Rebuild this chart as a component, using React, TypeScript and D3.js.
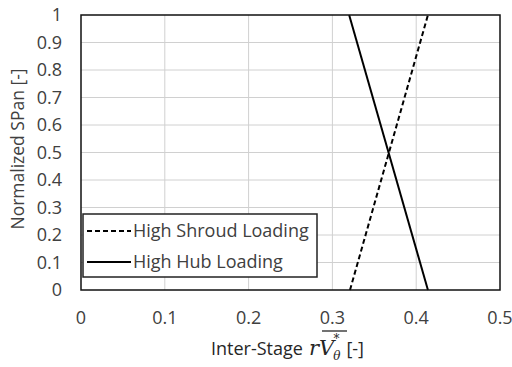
import React from "react";
import * as d3 from "d3";

const xTicks = [0, 0.1, 0.2, 0.3, 0.4, 0.5];
const yTicks = [0, 0.1, 0.2, 0.3, 0.4, 0.5, 0.6, 0.7, 0.8, 0.9, 1];
const shroudX = [0.321, 0.414];
const shroudY = [0, 1];
const hubX = [0.414, 0.32];
const hubY = [0, 1];
const seriesNames = ["High Shroud Loading", "High Hub Loading"];

export default function App() {
  const W = 512, H = 367;
  const left = 81, right = 500, top = 15, bottom = 290;
  const x = d3.scaleLinear().domain([0, 0.5]).range([left, right]);
  const y = d3.scaleLinear().domain([0, 1]).range([bottom, top]);
  const line = d3.line<[number, number]>().x(d => x(d[0])).y(d => y(d[1]));
  const shroud: [number, number][] = shroudX.map((v, i) => [v, shroudY[i]]);
  const hub: [number, number][] = hubX.map((v, i) => [v, hubY[i]]);
  const font = "'Open Sans', sans-serif";
  const txt = "#404040";
  const fs = 18;
  const serif = "'DejaVu Serif', 'Liberation Serif', serif";
  return (
    <svg width={W} height={H} style={{ position: "absolute", left: 0, top: 0, background: "#fff" }} fontFamily={font}>
      <rect x={0} y={0} width={W} height={H} fill="#fff" />
      {xTicks.slice(1, -1).map(t => (
        <line key={"gx" + t} x1={x(t)} x2={x(t)} y1={top} y2={bottom} stroke="#d0d0d0" strokeWidth={1} />
      ))}
      {yTicks.slice(1, -1).map(t => (
        <line key={"gy" + t} x1={left} x2={right} y1={y(t)} y2={y(t)} stroke="#d0d0d0" strokeWidth={1} />
      ))}
      <path d={line(shroud) || ""} fill="none" stroke="#000" strokeWidth={2} strokeDasharray="5,3" />
      <path d={line(hub) || ""} fill="none" stroke="#000" strokeWidth={2} />
      <rect x={left} y={top} width={right - left} height={bottom - top} fill="none" stroke="#111" strokeWidth={1.5} />
      {yTicks.map(t => (
        <text key={"ty" + t} x={62} y={y(t) + 6} textAnchor="end" fontSize={fs} fill={txt}>{t}</text>
      ))}
      {xTicks.map(t => (
        <text key={"tx" + t} x={x(t)} y={324} textAnchor="middle" fontSize={fs} fill={txt}>{t}</text>
      ))}
      <text transform={`translate(24,149) rotate(-90)`} textAnchor="middle" fontSize={17.5} fill={txt}>Normalized SPan [-]</text>
      <g>
        <text x={211} y={355} fontSize={18} fill="#262626">
          Inter-Stage
          <tspan dx={6} fontSize={21} fontStyle="italic" fontFamily={serif}>r</tspan>
          <tspan fontSize={21} fontStyle="italic" fontFamily={serif}>V</tspan>
          <tspan dx={-1} dy={5} fontSize={12} fontStyle="italic" fontFamily={serif}>θ</tspan>
          <tspan dx={-7} dy={-17} fontSize={12} fontStyle="italic" fontFamily={serif}>*</tspan>
          <tspan dx={7} dy={12}>[-]</tspan>
        </text>
        <line x1={322} x2={347} y1={331} y2={331} stroke="#262626" strokeWidth={1.3} />
      </g>
      <g>
        <rect x={83} y={214} width={234} height={63} fill="#fff" stroke="#222" strokeWidth={1.5} />
        <line x1={87} x2={131} y1={231} y2={231} stroke="#000" strokeWidth={2} strokeDasharray="5,3" />
        <line x1={87} x2={131} y1={262} y2={262} stroke="#000" strokeWidth={2} />
        <text x={133} y={237} fontSize={fs} fill={txt}>{seriesNames[0]}</text>
        <text x={133} y={268} fontSize={fs} fill={txt}>{seriesNames[1]}</text>
      </g>
    </svg>
  );
}
